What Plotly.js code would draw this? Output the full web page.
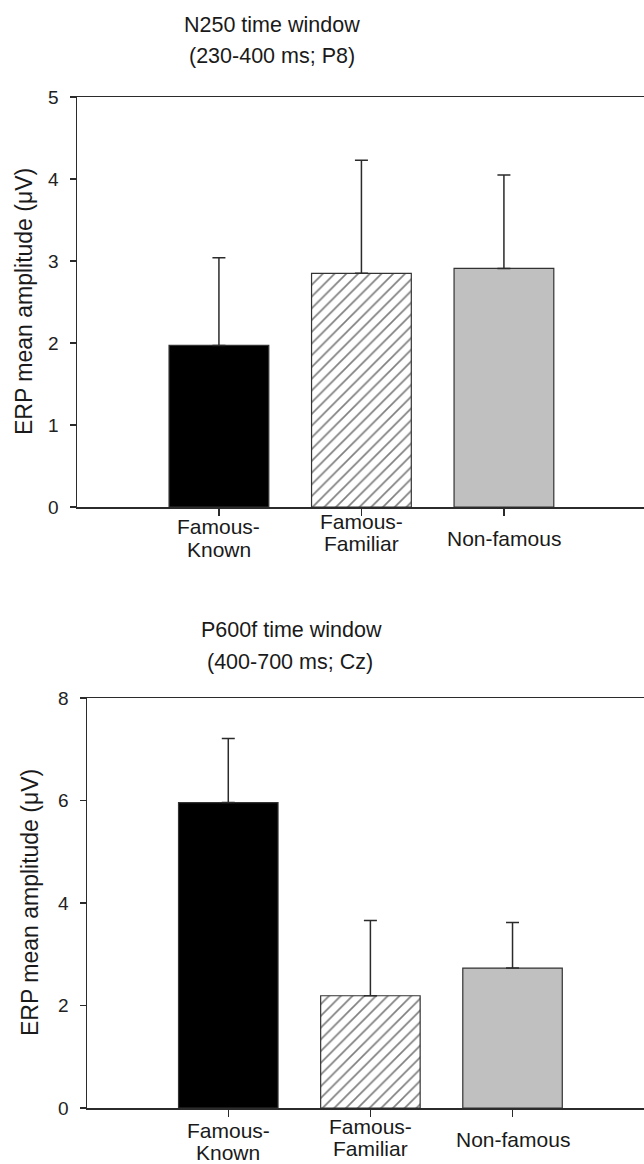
<!DOCTYPE html>
<html>
<head>
<meta charset="utf-8">
<script src="https://cdn.plot.ly/plotly-3.0.1.min.js"></script>
<style>html,body{margin:0;padding:0;background:#fff;}#chart{width:644px;height:1164px;}</style>
</head>
<body>
<div id="chart"></div>
<script>
// ---- data ----
var categories = ["Famous-Known", "Famous-Familiar", "Non-famous"];
var tickLine1 = ["Famous-", "Famous-", "Non-famous"];
var tickLine2 = ["Known", "Familiar", ""];
var n250Means = [1.97, 2.85, 2.91];
var n250Errors = [1.07, 1.38, 1.14];
var p600Means = [5.96, 2.19, 2.73];
var p600Errors = [1.25, 1.47, 0.89];
var n250TickVals = [0, 1, 2, 3, 4, 5];
var p600TickVals = [0, 2, 4, 6, 8];
var n250Title = ["N250 time window", "(230-400 ms; P8)"];
var p600Title = ["P600f time window", "(400-700 ms; Cz)"];
var yTitle = "ERP mean amplitude (\u03bcV)";

var W = 644, H = 1164;
var FONT = "Liberation Sans, Arial, sans-serif";
var INK = "#2b2b2b";
var fills = ["#000000", "#ffffff", "#c0c0c0"];
var hatches = ["", "/", ""];

function barTraces(vals, errs, xa, ya) {
  return categories.map(function(c, i) {
    var marker = {color: fills[i], line: {color: "#333333", width: 1.2}};
    if (hatches[i]) {
      marker.pattern = {shape: hatches[i], fgcolor: "#000000", bgcolor: "#ffffff", size: 8.3, solidity: 0.2, fillmode: "overlay"};
    }
    return {
      type: "bar", x: [c], y: [vals[i]], xaxis: xa, yaxis: ya, width: 0.7, name: c,
      marker: marker,
      error_y: {type: "data", symmetric: false, array: [errs[i]], arrayminus: [0],
                color: INK, thickness: 1.5, width: 6.5},
      showlegend: false, hoverinfo: "x+y"
    };
  });
}

function py(p) { return 1 - p / H; }
function px(p) { return p / W; }

var axisCommon = {
  showgrid: false, zeroline: false, showline: true, linecolor: INK, linewidth: 1.5,
  ticks: "outside", ticklen: 6, tickwidth: 1.3, tickcolor: INK,
  tickfont: {family: FONT, size: 19, color: "#222"}, fixedrange: true
};

function ax(extra) { return Object.assign({}, axisCommon, extra); }

var layout = {
  width: W, height: H, margin: {l: 0, r: 0, t: 0, b: 0},
  paper_bgcolor: "#fff", plot_bgcolor: "#fff", barmode: "overlay",
  xaxis: ax({type: "category", categoryarray: categories, categoryorder: "array", domain: [px(77), 1], range: [-0.996, 2.983], anchor: "y", mirror: true, showticklabels: false, ticklen: 7}),
  yaxis: ax({domain: [py(507), py(97)], range: [0, 5], tickvals: n250TickVals, anchor: "x", ticklabelstandoff: 7}),
  xaxis2: ax({type: "category", categoryarray: categories, categoryorder: "array", domain: [px(87), 1], range: [-0.994, 2.925], anchor: "y2", mirror: true, showticklabels: false, ticklen: 7}),
  yaxis2: ax({domain: [py(1108), py(698)], range: [0, 8], tickvals: p600TickVals, anchor: "x2", ticklabelstandoff: 7}),
  annotations: []
};

function addText(text, x, y, xref, yref, size, extra) {
  layout.annotations.push(Object.assign({
    text: text, x: x, y: y, xref: xref, yref: yref, showarrow: false,
    xanchor: "center", yanchor: "middle",
    font: {family: FONT, size: size, color: "#1a1a1a"}
  }, extra || {}));
}

// chart titles
addText(n250Title[0], px(272), py(25), "paper", "paper", 21.5);
addText(n250Title[1], px(272), py(56), "paper", "paper", 21.5);
addText(p600Title[0], px(291), py(630), "paper", "paper", 21.5);
addText(p600Title[1], px(290), py(662), "paper", "paper", 21.5);

// y axis titles
addText(yTitle, px(24), py(302), "paper", "paper", 23, {textangle: -90});
addText(yTitle, px(30), py(903), "paper", "paper", 23, {textangle: -90});

// x category labels (two-line labels, single-line label centred between)
var topY = {l1: [527, 521, 538], l2: [549, 543]};
var botY = {l1: [1130, 1126, 1139], l2: [1152, 1148]};
categories.forEach(function(c, i) {
  addText(tickLine1[i], c, py(topY.l1[i]), "x", "paper", 21);
  addText(tickLine1[i], c, py(botY.l1[i]), "x2", "paper", 21);
  if (tickLine2[i]) {
    addText(tickLine2[i], c, py(topY.l2[i]), "x", "paper", 21);
    addText(tickLine2[i], c, py(botY.l2[i]), "x2", "paper", 21);
  }
});

var data = barTraces(n250Means, n250Errors, "x", "y").concat(barTraces(p600Means, p600Errors, "x2", "y2"));
Plotly.newPlot("chart", data, layout, {displayModeBar: false, staticPlot: true});
</script>
</body>
</html>
